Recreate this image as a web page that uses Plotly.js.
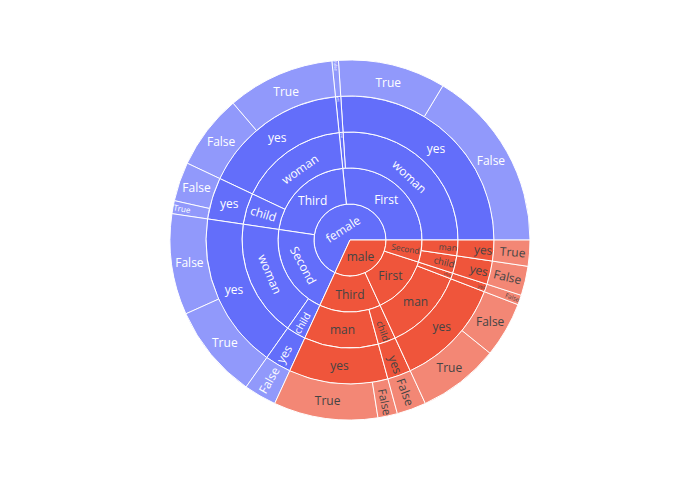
<!DOCTYPE html>
<html>
<head>
<meta charset="utf-8">
<script src="https://cdn.plot.ly/plotly-3.0.1.min.js"></script>
<style>html,body{margin:0;padding:0;background:#fff;}#chart{width:700px;height:500px;}</style>
</head>
<body>
<div id="chart"></div>
<script>
// Leaf records: sex / class / who / alive / alone -> count
const leafSex   = ['female','female','female','female','female','female','female','female','female','female','male','male','male','male','male','male','male','male'];
const leafClass = ['First','First','First','Third','Third','Third','Third','Second','Second','Second','Third','Third','Third','First','First','First','Second','Second'];
const leafWho   = ['woman','woman','child','woman','woman','child','child','woman','woman','child','man','man','child','man','man','child','child','man'];
const leafAlive = ['yes','yes','yes','yes','yes','yes','yes','yes','yes','yes','yes','yes','yes','yes','yes','yes','yes','yes'];
const leafAlone = ['False','True','False','True','False','False','True','False','True','False','True','False','False','True','False','False','False','True'];
const leafCount = [56,33,2,33,23,12,4,31,29,10,32,6,9,25,17,3,9,8];

const nodes = new Map();
for (let i = 0; i < leafCount.length; i++) {
  const path = [leafSex[i], leafClass[i], leafWho[i], leafAlive[i], leafAlone[i]];
  for (let d = 0; d < path.length; d++) {
    const id = path.slice(0, d + 1).join('/');
    const parent = d === 0 ? '' : path.slice(0, d).join('/');
    if (!nodes.has(id)) nodes.set(id, {id: id, label: path[d], parent: parent, value: 0});
    nodes.get(id).value += leafCount[i];
  }
}
const ids = [], labels = [], parents = [], values = [];
nodes.forEach(n => { ids.push(n.id); labels.push(n.label); parents.push(n.parent); values.push(n.value); });

Plotly.newPlot('chart', [{
  type: 'sunburst',
  ids: ids,
  labels: labels,
  parents: parents,
  values: values,
  branchvalues: 'total'
}], {
  width: 700,
  height: 500,
  margin: {t: 60, l: 80, r: 80, b: 80},
  colorway: ['#636efa', '#EF553B', '#00cc96', '#ab63fa', '#FFA15A'],
  paper_bgcolor: '#fff'
}, {displayModeBar: false});
</script>
</body>
</html>
